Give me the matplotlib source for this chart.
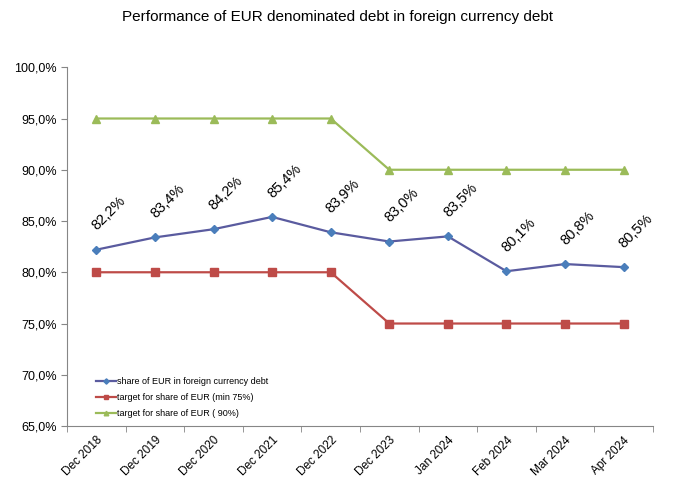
import matplotlib.pyplot as plt
from matplotlib.ticker import FuncFormatter
import numpy as np

plt.rcParams['font.family'] = ['Liberation Sans', 'DejaVu Sans']

categories = ["Dec 2018", "Dec 2019", "Dec 2020", "Dec 2021", "Dec 2022",
              "Dec 2023", "Jan 2024", "Feb 2024", "Mar 2024", "Apr 2024"]
share_eur = [82.2, 83.4, 84.2, 85.4, 83.9, 83.0, 83.5, 80.1, 80.8, 80.5]
target_min = [80, 80, 80, 80, 80, 75, 75, 75, 75, 75]
target_90 = [95, 95, 95, 95, 95, 90, 90, 90, 90, 90]

fig = plt.figure(figsize=(6.75, 4.79), dpi=100)
ax = fig.add_axes([0.0993, 0.1106, 0.868, 0.749])

x = np.arange(len(categories))
ax.plot(x, share_eur, color="#5A5B9F", lw=1.6, marker="D", ms=4.5,
        mfc="#4A7EBB", mec="#4A7EBB", label="share of EUR in foreign currency debt")
ax.plot(x, target_min, color="#BE4B48", lw=1.6, marker="s", ms=5.5,
        mfc="#BE4B48", mec="#BE4B48", label="target for share of EUR (min 75%)")
ax.plot(x, target_90, color="#9BBB59", lw=1.6, marker="^", ms=5.5,
        mfc="#9BBB59", mec="#9BBB59", label="target for share of EUR ( 90%)")

for xi, v in zip(x, share_eur):
    ax.annotate(f"{v:.1f}%".replace(".", ","), (xi, v), xytext=(2, 12),
                textcoords="offset points", rotation=45, rotation_mode="anchor",
                ha="left", va="bottom", fontsize=10.5)

ax.set_xlim(-0.5, len(categories) - 0.5)
ax.set_ylim(65, 100)
ax.set_yticks(np.arange(65, 100.1, 5))
ax.yaxis.set_major_formatter(FuncFormatter(lambda v, p: f"{v:.1f}%".replace(".", ",")))
ax.set_xticks(x)
ax.set_xticklabels(categories, rotation=45, ha="right", rotation_mode="anchor", fontsize=8.5)
ax.set_xticks(np.arange(-0.5, len(categories)), minor=True)
ax.tick_params(axis="x", which="major", length=0, pad=6)
ax.tick_params(axis="x", which="minor", length=4, direction="out", color="#868686")
ax.tick_params(axis="y", length=4, direction="out", color="#868686", labelsize=9)

for s in ["top", "right"]:
    ax.spines[s].set_visible(False)
for s in ["left", "bottom"]:
    ax.spines[s].set_color("#868686")

ax.legend(loc="lower left", bbox_to_anchor=(0.035, 0.0), frameon=False, fontsize=6.5,
          handlelength=2.2, handletextpad=0.15, labelspacing=0.75, markerscale=0.6)

fig.text(0.5, 0.965, "Performance of EUR denominated debt in foreign currency debt",
         ha="center", va="center", fontsize=11)

fig.savefig("out.png", dpi=100)
